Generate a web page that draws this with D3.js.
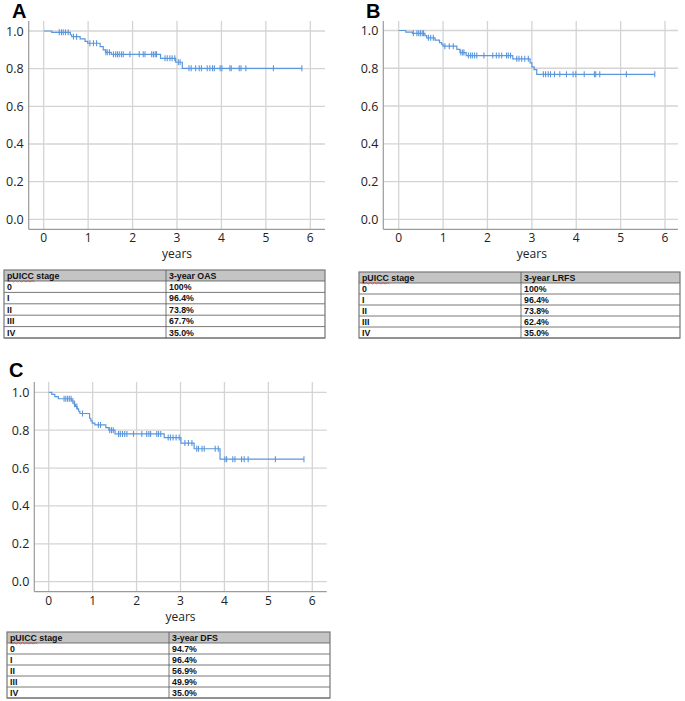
<!DOCTYPE html>
<html>
<head>
<meta charset="utf-8">
<script src="https://cdn.jsdelivr.net/npm/d3@7"></script>
<style>
  body { margin: 0; background: #fff; }
  svg { display: block; }
</style>
</head>
<body>
<svg id="canvas" width="685" height="701"></svg>
<script>
// ---- data ----
const yearTicks = [0, 1, 2, 3, 4, 5, 6]
const survTicks = [0, 0.2, 0.4, 0.6, 0.8, 1.0]

// A: overall survival
const eventTimesA = [0.18, 0.60, 0.63, 0.82, 0.93, 0.99, 1.27, 1.34, 1.39, 1.52, 2.63, 2.97, 3.12]
const survA = [0.993, 0.98, 0.97, 0.958, 0.945, 0.935, 0.917, 0.900, 0.887, 0.876, 0.855, 0.834, 0.802]
const censorA = [0.35, 0.40, 0.44, 0.49, 0.55, 0.67, 0.74, 1.04, 1.12, 1.19, 1.40, 1.43, 1.48, 1.57, 1.62, 1.66, 1.70, 1.75, 1.79, 1.94, 2.15, 2.24, 2.28, 2.43, 2.47, 2.51, 2.54, 2.73, 2.78, 2.84, 2.89, 2.95, 3.03, 3.07, 3.27, 3.32, 3.42, 3.50, 3.55, 3.68, 3.74, 3.80, 3.84, 3.97, 4.01, 4.19, 4.22, 4.40, 4.44, 4.55, 5.17, 5.81]

// B: local recurrence free survival
const eventTimesB = [0.16, 0.31, 0.59, 0.63, 0.82, 0.92, 0.97, 1.00, 1.31, 1.38, 1.52, 2.57, 2.96, 3.00, 3.05, 3.11]
const survB = [0.991, 0.985, 0.973, 0.961, 0.949, 0.936, 0.927, 0.917, 0.900, 0.883, 0.867, 0.850, 0.828, 0.807, 0.793, 0.768]
const censorB = [0.33, 0.41, 0.45, 0.49, 0.53, 0.56, 0.67, 0.72, 0.78, 1.04, 1.14, 1.23, 1.40, 1.44, 1.47, 1.57, 1.62, 1.66, 1.71, 1.76, 1.92, 2.12, 2.20, 2.26, 2.32, 2.43, 2.47, 2.52, 2.66, 2.71, 2.77, 2.84, 2.92, 3.26, 3.31, 3.37, 3.42, 3.51, 3.63, 3.78, 3.93, 3.99, 4.18, 4.41, 4.44, 4.53, 5.13, 5.77]

// C: disease free survival
const eventTimesC = [0.07, 0.14, 0.22, 0.52, 0.58, 0.61, 0.65, 0.68, 0.71, 0.93, 0.96, 0.99, 1.05, 1.30, 1.37, 1.51, 2.63, 3.01, 3.31, 3.90]
const survC = [0.989, 0.977, 0.966, 0.954, 0.937, 0.925, 0.912, 0.900, 0.888, 0.863, 0.849, 0.837, 0.828, 0.814, 0.800, 0.780, 0.761, 0.732, 0.702, 0.647]
const censorC = [0.35, 0.39, 0.43, 0.47, 0.51, 0.55, 0.59, 0.64, 0.77, 1.13, 1.18, 1.39, 1.43, 1.47, 1.59, 1.63, 1.68, 1.73, 1.78, 1.93, 2.12, 2.23, 2.28, 2.32, 2.46, 2.50, 2.55, 2.72, 2.77, 2.83, 2.90, 2.97, 3.10, 3.18, 3.26, 3.37, 3.41, 3.49, 3.54, 3.79, 3.86, 4.01, 4.05, 4.19, 4.24, 4.39, 4.45, 4.54, 5.16, 5.81]

// tables
const stages = ['0', 'I', 'II', 'III', 'IV']
const oas = ['100%', '96.4%', '73.8%', '67.7%', '35.0%']
const lrfs = ['100%', '96.4%', '73.8%', '62.4%', '35.0%']
const dfs = ['94.7%', '96.4%', '56.9%', '49.9%', '35.0%']

let canvas = d3.select('#canvas')
const lineColor = '#5b97dc'
const gridColor = '#d4d4d4'
const axisColor = '#9a9a9a'
const tickFont = '"Open Sans", "DejaVu Sans", sans-serif'

let drawPanel = (p) => {
    let g = canvas.append('g')
    let x = d3.scaleLinear().domain([0, 6]).range([p.x0, p.x6])
    let y = d3.scaleLinear().domain([0, 1]).range([p.y0, p.y1])

    // grid
    g.selectAll('.hgrid').data(survTicks).enter().append('line')
        .attr('x1', p.left).attr('x2', p.right)
        .attr('y1', d => y(d)).attr('y2', d => y(d))
        .attr('stroke', gridColor).attr('stroke-width', 1.3)
    g.selectAll('.vgrid').data(yearTicks).enter().append('line')
        .attr('x1', d => x(d)).attr('x2', d => x(d))
        .attr('y1', p.top).attr('y2', p.bottom)
        .attr('stroke', gridColor).attr('stroke-width', 1.3)

    // axis lines
    g.append('line').attr('x1', p.left).attr('x2', p.left).attr('y1', p.top).attr('y2', p.bottom)
        .attr('stroke', axisColor).attr('stroke-width', 1.2)
    g.append('line').attr('x1', p.left).attr('x2', p.right).attr('y1', p.bottom).attr('y2', p.bottom)
        .attr('stroke', axisColor).attr('stroke-width', 1.2)

    // tick labels
    g.selectAll('.ylab').data(survTicks).enter().append('text')
        .attr('x', p.left - 5).attr('y', d => y(d) + 4.5)
        .attr('text-anchor', 'end')
        .attr('font-family', tickFont).attr('font-size', 12.5).attr('fill', '#222')
        .text(d => d.toFixed(1))
    g.selectAll('.xlab').data(yearTicks).enter().append('text')
        .attr('x', d => x(d)).attr('y', p.bottom + 13)
        .attr('text-anchor', 'middle')
        .attr('font-family', tickFont).attr('font-size', 12).attr('fill', '#222')
        .text(d => d)
    g.append('text')
        .attr('x', x(3)).attr('y', p.bottom + 29)
        .attr('text-anchor', 'middle')
        .attr('font-family', tickFont).attr('font-size', 12).attr('fill', '#222')
        .text('years')

    // panel letter
    g.append('text')
        .attr('x', p.letterX).attr('y', p.letterY)
        .attr('font-family', '"Liberation Sans", Arial, sans-serif')
        .attr('font-weight', 'bold').attr('font-size', 20).attr('fill', '#000')
        .text(p.letter)

    // KM step curve
    let pts = [[0, 1]]
    let prev = 1
    p.times.forEach((t, i) => {
        pts.push([t, prev])
        pts.push([t, p.surv[i]])
        prev = p.surv[i]
    })
    let last = d3.max(p.censor)
    pts.push([last, prev])
    g.append('path')
        .attr('d', d3.line().x(d => x(d[0])).y(d => y(d[1]))(pts))
        .attr('fill', 'none').attr('stroke', lineColor).attr('stroke-width', 1.2)

    // censor marks
    let survAt = (t) => {
        let i = d3.bisectRight(p.times, t)
        return i === 0 ? 1 : p.surv[i - 1]
    }
    g.selectAll('.cens').data(p.censor).enter().append('line')
        .attr('x1', d => x(d)).attr('x2', d => x(d))
        .attr('y1', d => y(survAt(d)) - 3).attr('y2', d => y(survAt(d)) + 3)
        .attr('stroke', lineColor).attr('stroke-width', 1.1)
}

let drawTable = (t) => {
    let g = canvas.append('g')
    let rows = stages.map((s, i) => [s, t.values[i]])
    let rowY = d3.scaleBand().domain(d3.range(rows.length)).range([t.top + t.headH, t.bottom])
    let font = '"Liberation Sans", Arial, sans-serif'
    let fs = 8.8

    g.append('rect')
        .attr('x', t.left).attr('y', t.top).attr('width', t.right - t.left).attr('height', t.headH)
        .attr('fill', '#c4c4c4')
    g.selectAll('.row').data(d3.range(rows.length + 1)).enter().append('line')
        .attr('x1', t.left).attr('x2', t.right)
        .attr('y1', i => i === 0 ? t.top + t.headH : rowY(i - 1) + rowY.bandwidth())
        .attr('y2', i => i === 0 ? t.top + t.headH : rowY(i - 1) + rowY.bandwidth())
        .attr('stroke', '#555').attr('stroke-width', 0.8)
    g.append('rect')
        .attr('x', t.left).attr('y', t.top).attr('width', t.right - t.left).attr('height', t.bottom - t.top)
        .attr('fill', 'none').attr('stroke', '#777').attr('stroke-width', 1.2)
    g.append('line')
        .attr('x1', t.mid).attr('x2', t.mid).attr('y1', t.top).attr('y2', t.bottom)
        .attr('stroke', '#555').attr('stroke-width', 0.8)

    g.append('text').attr('x', t.left + 3).attr('y', t.top + t.headH - 2.5)
        .attr('font-family', font).attr('font-weight', 'bold').attr('font-size', fs).attr('fill', '#111')
        .text('pUICC stage')
    // spell-check squiggle under "pUICC"
    let sq = []
    for (let k = 0; k <= 13; k++) sq.push([t.left + 3 + k * 2.1, t.top + t.headH + (k % 2 === 0 ? -0.3 : 0.9)])
    g.append('path').attr('d', d3.line()(sq)).attr('fill', 'none').attr('stroke', '#d03030').attr('stroke-width', 0.7)
    g.append('text').attr('x', t.mid + 3).attr('y', t.top + t.headH - 2.5)
        .attr('font-family', font).attr('font-weight', 'bold').attr('font-size', fs).attr('fill', '#111')
        .text(t.header)

    let cells = g.selectAll('.cell').data(rows).enter().append('g')
    cells.append('text').attr('x', t.left + 3).attr('y', (d, i) => rowY(i) + rowY.bandwidth() - 2.5)
        .attr('font-family', font).attr('font-weight', 'bold').attr('font-size', fs).attr('fill', '#111')
        .text(d => d[0])
    cells.append('text').attr('x', t.mid + 3).attr('y', (d, i) => rowY(i) + rowY.bandwidth() - 2.5)
        .attr('font-family', font).attr('font-weight', 'bold').attr('font-size', fs).attr('fill', '#111')
        .text(d => d[1])
}

drawPanel({letter: 'A', letterX: 12, letterY: 18, times: eventTimesA, surv: survA, censor: censorA,
    x0: 43.7, x6: 310.3, y0: 219.3, y1: 31, left: 28.7, right: 325, top: 21, bottom: 229.3})
drawPanel({letter: 'B', letterX: 366, letterY: 18, times: eventTimesB, surv: survB, censor: censorB,
    x0: 398.7, x6: 665, y0: 219.3, y1: 30.5, left: 383.3, right: 678, top: 21, bottom: 229.3})
drawPanel({letter: 'C', letterX: 9, letterY: 377, times: eventTimesC, surv: survC, censor: censorC,
    x0: 48.7, x6: 312.3, y0: 581.7, y1: 392.3, left: 34.3, right: 326.7, top: 382, bottom: 591.7})

drawTable({header: '3-year OAS', values: oas, left: 4, mid: 166, right: 325, top: 270, headH: 11, bottom: 338})
drawTable({header: '3-year LRFS', values: lrfs, left: 359, mid: 521, right: 680, top: 272, headH: 11, bottom: 338})
drawTable({header: '3-year DFS', values: dfs, left: 7, mid: 169, right: 330, top: 632, headH: 11, bottom: 698})
</script>
</body>
</html>
